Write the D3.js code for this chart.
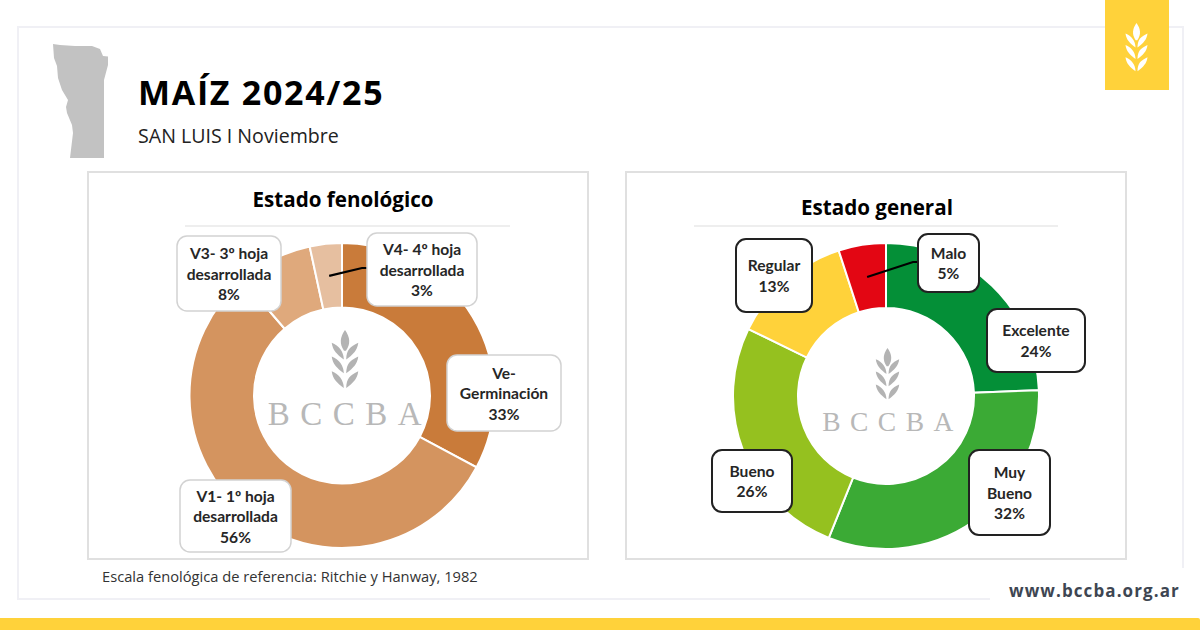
<!DOCTYPE html>
<meta charset="utf-8">
<script src="https://d3js.org/d3.v7.min.js"></script>
<style>
body { margin: 0; background: #fff; }
text { font-family: "Open Sans", sans-serif; }
.box-label { font-family: Lato, sans-serif; font-weight: 700; font-size: 15.6px; fill: #262626; text-anchor: middle; }
</style>
<div id="chart"></div>
<script>
// values
var fenoNames = [["Ve-", "Germinación"], ["V1- 1º hoja", "desarrollada"], ["V3- 3º hoja", "desarrollada"], ["V4- 4º hoja", "desarrollada"]];
var fenoValues = [32.8, 55.9, 7.9, 3.4];
var fenoLabels = ["33%", "56%", "8%", "3%"];
var fenoColors = ["#c97b3a", "#d4945f", "#dfa97c", "#e6bfa0"];

var generalNames = [["Excelente"], ["Muy", "Bueno"], ["Bueno"], ["Regular"], ["Malo"]];
var generalValues = [24.4, 31.7, 26.1, 12.8, 5.0];
var generalLabels = ["24%", "32%", "26%", "13%", "5%"];
var generalColors = ["#048f37", "#3baa35", "#95c11f", "#ffd23a", "#e30613"];

// label box layout [x0, y0, x1, y1]
var fenoBoxes = [[447, 355, 561, 431], [180, 480, 291, 552], [177, 236, 281, 311], [367, 233, 477, 306]];
var generalBoxes = [[987, 309, 1085, 372], [969, 450, 1050, 535], [712, 450, 792, 512], [736, 239, 812, 312], [918, 234, 979, 292]];

var svg = d3.select("#chart").append("svg")
  .attr("width", 1200)
  .attr("height", 630)
  .style("display", "block");

// outer frame, open at the bottom right corner
svg.append("path")
  .attr("d", "M990,599H18V27H1183V568")
  .attr("fill", "none")
  .attr("stroke", "#f0f0f5")
  .attr("stroke-width", 2);

// yellow tab and bottom bar
svg.append("rect").attr("x", 1105).attr("y", 0).attr("width", 64).attr("height", 90).attr("fill", "#ffd23a");
svg.append("rect").attr("x", -4).attr("y", 618).attr("width", 1204).attr("height", 20).attr("rx", 2).attr("fill", "#ffd23a");

// wheat icon, drawn on a 27x60 grid
function wheat(cx, top, h, color) {
  var k = h / 60;
  var g = svg.append("g")
    .attr("transform", "translate(" + cx + "," + top + ") scale(" + k + ")")
    .attr("fill", color);
  g.append("path").attr("d", "M0,0C-5,7 -6,14 -1,21V21H1C6,14 5,7 0,0Z");
  [30, 44, 59].forEach(function(b) {
    g.append("path").attr("d", "M1.2," + b + "C1.5," + (b - 10) + " 5," + (b - 13) + " 13.5," + (b - 17) + "C12.5," + (b - 9) + " 8," + (b - 5) + " 1.2," + b + "Z");
    g.append("path").attr("d", "M-1.2," + b + "C-1.5," + (b - 8) + " -6," + (b - 14) + " -13.5," + (b - 17) + "C-12.5," + (b - 9) + " -8," + (b - 5) + " -1.2," + b + "Z");
  });
}
wheat(1136.5, 23, 49, "#fff");

// San Luis map
svg.append("path")
  .attr("d", "M53,44L60,45L75,46L92,46L100,49L103,56L108,56.5L108,65L104,80L104,158L70,158L73,133L72,125L67,113L66,107L68,100L62,90L58,78L57,66L54,58Z")
  .attr("fill", "#c2c2c2");

// header
svg.append("text").attr("x", 138).attr("y", 105)
  .style("font-size", "34px").style("font-weight", 700).style("letter-spacing", "1.7px")
  .attr("fill", "#000").text("MAÍZ 2024/25");
svg.append("text").attr("x", 138).attr("y", 143)
  .style("font-size", "19.6px").attr("fill", "#222").text("SAN LUIS I Noviembre");

svg.append("text").attr("x", 102).attr("y", 582)
  .style("font-size", "14.7px").attr("fill", "#333")
  .text("Escala fenológica de referencia: Ritchie y Hanway, 1982");
svg.append("text").attr("x", 1009).attr("y", 597)
  .style("font-size", "17px").style("font-weight", 700).style("letter-spacing", "1.1px")
  .attr("fill", "#3e4652").text("www.bccba.org.ar");

function donut(o) {
  // panel
  svg.append("rect")
    .attr("x", o.panel[0]).attr("y", 172).attr("width", o.panel[1]).attr("height", 387)
    .attr("fill", "#fff").attr("stroke", "#e0e0e0").attr("stroke-width", 2);

  svg.append("text")
    .attr("x", o.titleX).attr("y", 207 + o.titleDy)
    .attr("text-anchor", "middle")
    .style("font-size", "20.6px").style("font-weight", 700).attr("fill", "#000")
    .text(o.title);
  svg.append("line")
    .attr("x1", o.rule[0]).attr("x2", o.rule[1]).attr("y1", 226).attr("y2", 226)
    .attr("stroke", "#e8e8e8").attr("stroke-width", 1.5);

  var pie = d3.pie().sort(null);
  var arc = d3.arc().innerRadius(o.inner).outerRadius(o.outer);
  var arcs = pie(o.values);
  var g = svg.append("g").attr("transform", "translate(" + o.cx + "," + o.cy + ")");

  g.selectAll("path").data(arcs).enter().append("path")
    .attr("d", arc)
    .attr("fill", function(d, i) { return o.colors[i]; })
    .attr("stroke", "#fff")
    .attr("stroke-width", 2);

  // centre logo
  wheat(o.logo[0], o.logo[1], o.logo[2], "#b3b3b3");
  svg.append("text")
    .attr("x", o.logoText[0]).attr("y", o.logoText[1])
    .attr("text-anchor", "middle")
    .style("font-family", "'Liberation Serif', serif")
    .style("font-size", o.logoText[2] + "px")
    .style("letter-spacing", o.logoText[3] + "px")
    .attr("fill", "#b8b8b8")
    .text("BCCBA");

  // leader line for the last slice
  var c = arc.centroid(arcs[arcs.length - 1]);
  var b = o.boxes[o.boxes.length - 1];
  var ly = b[1] + o.leaderDy;
  svg.append("path")
    .attr("d", d3.line()([[o.cx + c[0], o.cy + c[1]], [b[0] - 5, ly], [b[0] + 2, ly]]))
    .attr("fill", "none").attr("stroke", "#000").attr("stroke-width", 2.2);

  // label boxes
  o.names.forEach(function(lines, i) {
    var r = o.boxes[i];
    svg.append("rect")
      .attr("x", r[0]).attr("y", r[1]).attr("width", r[2] - r[0]).attr("height", r[3] - r[1])
      .attr("rx", 10)
      .attr("fill", "#fff").attr("stroke", o.boxStroke).attr("stroke-width", o.boxWidth);
    var all = lines.concat([o.labels[i]]);
    var my = (r[1] + r[3]) / 2;
    all.forEach(function(t, j) {
      svg.append("text").attr("class", "box-label")
        .attr("x", (r[0] + r[2]) / 2)
        .attr("y", my + (j - (all.length - 1) / 2) * 20.5 + 6)
        .text(t);
    });
  });
}

donut({
  title: "Estado fenológico", titleX: 343, titleDy: 0,
  panel: [88, 500], rule: [185, 510],
  cx: 342, cy: 395.5, inner: 88, outer: 152.5,
  values: fenoValues, colors: fenoColors, names: fenoNames, labels: fenoLabels, boxes: fenoBoxes,
  boxStroke: "#d2d2d2", boxWidth: 1.5, leaderDy: 35,
  logo: [345, 330, 59], logoText: [350, 425, 33, 10.5]
});
donut({
  title: "Estado general", titleX: 877, titleDy: 8,
  panel: [626, 500], rule: [694, 1058],
  cx: 886, cy: 396, inner: 88, outer: 153,
  values: generalValues, colors: generalColors, names: generalNames, labels: generalLabels, boxes: generalBoxes,
  boxStroke: "#222", boxWidth: 2, leaderDy: 28,
  logo: [887.5, 348, 52], logoText: [892.5, 431, 27.5, 9.5]
});
</script>
